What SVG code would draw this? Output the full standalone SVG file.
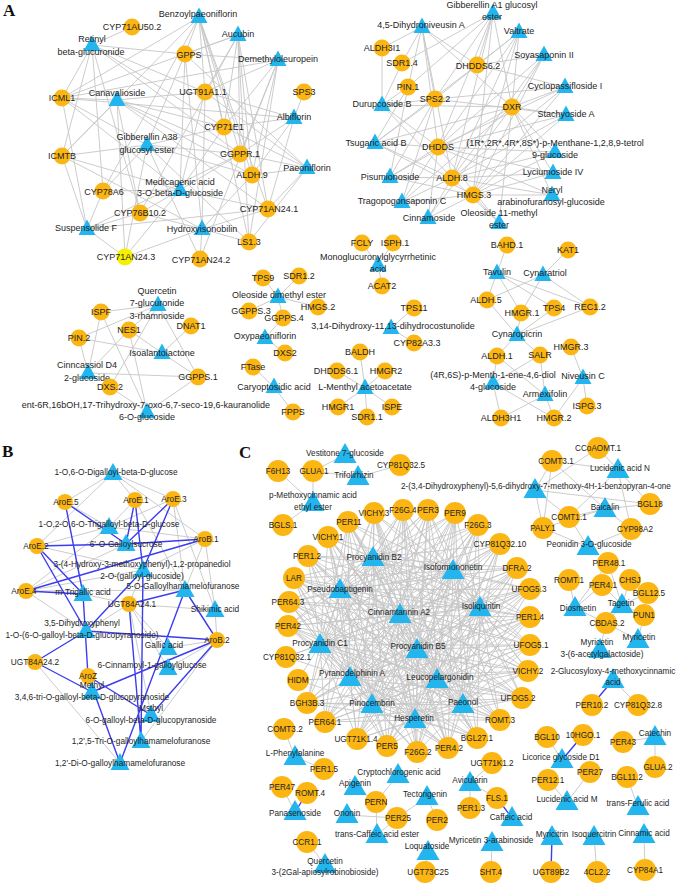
<svg xmlns="http://www.w3.org/2000/svg" width="676" height="885" viewBox="0 0 676 885">
<style>
.e{stroke:#c6c6c6;stroke-width:0.9;fill:none}
.b{stroke:#3c3cf0;stroke-width:1.4;fill:none}
text{font-family:"Liberation Sans",Arial,sans-serif;fill:#1e1e1e;text-anchor:middle}
.fa{font-size:9px}
.fb{font-size:8.3px}
.fc{font-size:8.2px}
.p{font-family:"Liberation Serif","Times New Roman",serif;font-weight:bold;font-size:17px;text-anchor:start;fill:#111}
</style>
<defs>
<circle id="ca" r="8.5" fill="#FBB614"/>
<circle id="cy" r="8.5" fill="#F6F000"/>
<circle id="cb" r="8" fill="#FBB614"/>
<circle id="cc" r="11" fill="#FBB614"/>
<path id="ta" d="M0,-9.5L8.5,6L-8.5,6Z" fill="#22B5EE"/>
<path id="tb" d="M0,-10L9.5,7L-9.5,7Z" fill="#22B5EE"/>
<path id="tc" d="M0,-12L11.5,8L-11.5,8Z" fill="#22B5EE"/>
</defs>
<rect width="676" height="885" fill="#ffffff"/>
<text class="p" x="3" y="16">A</text>
<text class="p" x="2" y="457">B</text>
<text class="p" x="239" y="458">C</text>

<g id="connectors">
<!-- Panel A cluster 1 -->
<path class="e" d="M199,17L62,98M199,17L62,156M199,17L185,54M199,17L205,92M199,17L224,127M199,17L240,154M199,17L252,175M199,17L103,191M199,17L268,209M199,17L249,242"/>
<path class="e" d="M238,35L185,54M238,35L205,92M238,35L224,127M238,35L240,154M238,35L252,175M238,35L62,98M238,35L268,209M238,35L249,242M238,35L140,213"/>
<path class="e" d="M92,45L62,98M92,45L62,156M92,45L185,54M92,45L205,92M92,45L224,127M92,45L240,154M92,45L132,27M92,45L103,191M92,45L140,213"/>
<path class="e" d="M117,100L62,98M117,100L62,156M117,100L205,92M117,100L224,127M117,100L240,154M117,100L252,175M117,100L125,257M117,100L140,213M117,100L268,209"/>
<path class="e" d="M278,60L185,54M278,60L205,92M278,60L224,127M278,60L240,154M278,60L252,175M278,60L249,242M278,60L200,259M278,60L62,98"/>
<path class="e" d="M147,145L62,98M147,145L62,156M147,145L185,54M147,145L224,127M147,145L252,175M147,145L103,191M147,145L125,257M147,145L200,259M147,145L249,242M147,145L240,154"/>
<path class="e" d="M294,118L304,92M294,118L224,127M294,118L240,154M294,118L252,175M294,118L205,92M294,118L268,209M294,118L62,98"/>
<path class="e" d="M180,190L62,156M180,190L185,54M180,190L205,92M180,190L224,127M180,190L240,154M180,190L103,191M180,190L140,213M180,190L125,257M180,190L268,209M180,190L62,98"/>
<path class="e" d="M307,168L240,154M307,168L252,175M307,168L224,127M307,168L205,92M307,168L268,209M307,168L249,242M307,168L185,54"/>
<path class="e" d="M87,229L62,156M87,229L103,191M87,229L140,213M87,229L125,257M87,229L62,98M87,229L240,154M87,229L268,209"/>
<path class="e" d="M202,229L62,156M202,229L140,213M202,229L125,257M202,229L200,259M202,229L249,242M202,229L252,175M202,229L185,54M202,229L205,92M202,229L268,209"/>
<!-- Panel A cluster 2 -->
<path class="e" d="M422,27L382,48M422,27L402,63M422,27L408,87M422,27L435,99M422,27L477,65M422,27L512,107M422,27L438,147M422,27L452,178"/>
<path class="e" d="M493,13L477,65M493,13L512,107M493,13L435,99M493,13L438,147M493,13L452,178M493,13L473,195M493,13L408,87M493,13L402,63"/>
<path class="e" d="M519,32L477,65M519,32L512,107M519,32L438,147M519,32L452,178M519,32L473,195M519,32L435,99"/>
<path class="e" d="M544,55L512,107M544,55L477,65M544,55L438,147M544,55L452,178M544,55L473,195"/>
<path class="e" d="M565,87L512,107M565,87L438,147M565,87L452,178M565,87L473,195M565,87L435,99M565,87L477,65"/>
<path class="e" d="M566,115L512,107M566,115L438,147M566,115L452,178M566,115L473,195M566,115L435,99"/>
<path class="e" d="M555,152L512,107M555,152L438,147M555,152L452,178M555,152L473,195"/>
<path class="e" d="M553,173L512,107M553,173L452,178M553,173L473,195M553,173L438,147"/>
<path class="e" d="M552,195L473,195M552,195L452,178M552,195L512,107M552,195L438,147"/>
<path class="e" d="M382,105L382,48M382,105L408,87M382,105L402,63M382,105L435,99M382,105L438,147M382,105L452,178M382,105L512,107"/>
<path class="e" d="M375,143L408,87M375,143L435,99M375,143L438,147M375,143L452,178M375,143L473,195M375,143L512,107M375,143L477,65"/>
<path class="e" d="M390,177L435,99M390,177L438,147M390,177L452,178M390,177L473,195M390,177L512,107M390,177L408,87"/>
<path class="e" d="M402,202L438,147M402,202L452,178M402,202L473,195M402,202L512,107M402,202L435,99"/>
<path class="e" d="M428,218L438,147M428,218L452,178M428,218L473,195M428,218L512,107"/>
<path class="e" d="M499,223L473,195M499,223L452,178M499,223L512,107M499,223L438,147"/>
<!-- Panel A small clusters -->
<line class="e" x1="158" y1="305" x2="101" y2="312"/>
<line class="e" x1="158" y1="305" x2="129" y2="330"/>
<line class="e" x1="158" y1="305" x2="79" y2="338"/>
<line class="e" x1="158" y1="305" x2="198" y2="377"/>
<line class="e" x1="158" y1="305" x2="110" y2="387"/>
<line class="e" x1="162" y1="353" x2="191" y2="326"/>
<line class="e" x1="162" y1="353" x2="79" y2="338"/>
<line class="e" x1="162" y1="353" x2="129" y2="330"/>
<line class="e" x1="162" y1="353" x2="198" y2="377"/>
<line class="e" x1="88" y1="373" x2="101" y2="312"/>
<line class="e" x1="88" y1="373" x2="79" y2="338"/>
<line class="e" x1="88" y1="373" x2="129" y2="330"/>
<line class="e" x1="88" y1="373" x2="198" y2="377"/>
<line class="e" x1="147" y1="412" x2="110" y2="387"/>
<line class="e" x1="147" y1="412" x2="101" y2="312"/>
<line class="e" x1="147" y1="412" x2="129" y2="330"/>
<line class="e" x1="147" y1="412" x2="198" y2="377"/>
<line class="e" x1="278" y1="297" x2="263" y2="278"/>
<line class="e" x1="278" y1="297" x2="299" y2="276"/>
<line class="e" x1="278" y1="297" x2="318" y2="307"/>
<line class="e" x1="278" y1="297" x2="249" y2="311"/>
<line class="e" x1="278" y1="297" x2="283" y2="318"/>
<line class="e" x1="265" y1="338" x2="283" y2="318"/>
<line class="e" x1="265" y1="338" x2="285" y2="353"/>
<line class="e" x1="378" y1="265" x2="362" y2="243"/>
<line class="e" x1="378" y1="265" x2="393" y2="243"/>
<line class="e" x1="378" y1="265" x2="382" y2="286"/>
<line class="e" x1="391" y1="328" x2="414" y2="308"/>
<line class="e" x1="391" y1="328" x2="414" y2="343"/>
<line class="e" x1="274" y1="387" x2="253" y2="367"/>
<line class="e" x1="274" y1="387" x2="293" y2="412"/>
<line class="e" x1="365" y1="388" x2="360" y2="352"/>
<line class="e" x1="365" y1="388" x2="337" y2="371"/>
<line class="e" x1="365" y1="388" x2="385" y2="371"/>
<line class="e" x1="365" y1="388" x2="338" y2="407"/>
<line class="e" x1="365" y1="388" x2="367" y2="417"/>
<line class="e" x1="365" y1="388" x2="392" y2="407"/>
<line class="e" x1="497" y1="273" x2="507" y2="245"/>
<line class="e" x1="543" y1="275" x2="568" y2="250"/>
<line class="e" x1="497" y1="273" x2="487" y2="300"/>
<line class="e" x1="497" y1="273" x2="521" y2="313"/>
<line class="e" x1="497" y1="273" x2="554" y2="308"/>
<line class="e" x1="497" y1="273" x2="590" y2="307"/>
<line class="e" x1="543" y1="275" x2="487" y2="300"/>
<line class="e" x1="543" y1="275" x2="521" y2="313"/>
<line class="e" x1="543" y1="275" x2="590" y2="307"/>
<line class="e" x1="517" y1="335" x2="487" y2="300"/>
<line class="e" x1="517" y1="335" x2="521" y2="313"/>
<line class="e" x1="517" y1="335" x2="554" y2="308"/>
<line class="e" x1="517" y1="335" x2="590" y2="307"/>
<line class="e" x1="517" y1="335" x2="497" y2="356"/>
<line class="e" x1="517" y1="335" x2="540" y2="355"/>
<line class="e" x1="583" y1="378" x2="571" y2="347"/>
<line class="e" x1="583" y1="378" x2="554" y2="418"/>
<line class="e" x1="583" y1="378" x2="587" y2="406"/>
<line class="e" x1="493" y1="383" x2="497" y2="356"/>
<line class="e" x1="493" y1="383" x2="540" y2="355"/>
<line class="e" x1="493" y1="383" x2="554" y2="418"/>
<line class="e" x1="493" y1="383" x2="501" y2="418"/>
<line class="e" x1="545" y1="395" x2="497" y2="356"/>
<line class="e" x1="545" y1="395" x2="540" y2="355"/>
<line class="e" x1="545" y1="395" x2="501" y2="418"/>
<line class="e" x1="545" y1="395" x2="554" y2="418"/>
<!-- Panel B gray -->
<path class="e" d="M113,473L65,502M113,473L135,500M113,473L173,499M113,473L205,539M113,473L37,546"/>
<path class="e" d="M109,527L65,502M109,527L135,500M109,527L173,499M109,527L37,546M109,527L205,539M109,527L26,591"/>
<path class="e" d="M143,570L37,546M143,570L26,591M143,570L205,539M143,570L129,604"/>
<path class="e" d="M185,590L135,500M185,590L173,499M185,590L205,539M185,590L26,591"/>
<path class="e" d="M215,610L205,539M215,610L129,604M215,610L173,499M215,610L217,640"/>
<path class="e" d="M83,594L129,604M86,631L129,604M86,631L26,591M126,544L26,591M168,648L217,640M168,648L129,604M168,668L217,640M168,668L129,604M92,692L88,676M151,715L129,604M141,741L217,640M120,763L35,662"/>
<!-- Panel B blue -->
<path class="b" d="M65,502L83,594M65,502L126,544M135,500L126,544M135,500L143,570M173,499L126,544M173,499L143,570M205,539L126,544M205,539L26,591M37,546L126,544M37,546L83,594M37,546L86,631M26,591L83,594"/>
<path class="b" d="M129,604L185,590M129,604L141,741M217,640L185,590M217,640L86,631M217,640L92,692M217,640L151,715M88,676L83,594M88,676L120,763M88,676L151,715M35,662L92,692M35,662L86,631M143,570L86,631M143,570L141,741M185,590L120,763"/>
<!-- Panel C hub -->
<path class="e" d="M373,558L348,522M373,558L374,513M373,558L403,510M373,558L428,510M373,558L455,513M373,558L478,525M373,558L500,544M373,558L517,568M373,558L530,589M373,558L530,617M373,558L530,645M373,558L528,671M373,558L522,698M373,558L500,720M373,558L477,738M373,558L448,748M373,558L417,752M373,558L387,746M373,558L357,739M373,558L325,722M373,558L307,703M373,558L288,626M373,558L289,602M373,558L294,578M373,558L308,556M373,558L328,537"/>
<path class="e" d="M453,571L348,522M453,571L374,513M453,571L403,510M453,571L428,510M453,571L455,513M453,571L478,525M453,571L500,544M453,571L517,568M453,571L530,589M453,571L530,617M453,571L530,645M453,571L528,671M453,571L522,698M453,571L500,720M453,571L477,738M453,571L448,748M453,571L417,752M453,571L387,746M453,571L357,739M453,571L325,722M453,571L307,703M453,571L288,626M453,571L289,602M453,571L294,578M453,571L308,556M453,571L328,537"/>
<path class="e" d="M340,590L348,522M340,590L374,513M340,590L403,510M340,590L428,510M340,590L455,513M340,590L478,525M340,590L500,544M340,590L517,568M340,590L530,589M340,590L530,617M340,590L530,645M340,590L528,671M340,590L522,698M340,590L500,720M340,590L477,738M340,590L448,748M340,590L417,752M340,590L387,746M340,590L357,739M340,590L325,722M340,590L307,703M340,590L288,626M340,590L289,602M340,590L294,578M340,590L308,556M340,590L328,537"/>
<path class="e" d="M480,608L348,522M480,608L374,513M480,608L403,510M480,608L428,510M480,608L455,513M480,608L478,525M480,608L500,544M480,608L517,568M480,608L530,589M480,608L530,617M480,608L530,645M480,608L528,671M480,608L522,698M480,608L500,720M480,608L477,738M480,608L448,748M480,608L417,752M480,608L387,746M480,608L357,739M480,608L325,722M480,608L307,703M480,608L288,626M480,608L289,602M480,608L294,578M480,608L308,556M480,608L328,537"/>
<path class="e" d="M400,615L348,522M400,615L374,513M400,615L403,510M400,615L428,510M400,615L455,513M400,615L478,525M400,615L500,544M400,615L517,568M400,615L530,589M400,615L530,617M400,615L530,645M400,615L528,671M400,615L522,698M400,615L500,720M400,615L477,738M400,615L448,748M400,615L417,752M400,615L387,746M400,615L357,739M400,615L325,722M400,615L307,703M400,615L288,626M400,615L289,602M400,615L294,578M400,615L308,556M400,615L328,537M400,615L286,657"/>
<path class="e" d="M320,645L348,522M320,645L374,513M320,645L403,510M320,645L428,510M320,645L455,513M320,645L478,525M320,645L500,544M320,645L517,568M320,645L530,589M320,645L530,617M320,645L530,645M320,645L528,671M320,645L522,698M320,645L500,720M320,645L477,738M320,645L448,748M320,645L417,752M320,645L387,746M320,645L357,739M320,645L325,722M320,645L307,703M320,645L288,626M320,645L289,602M320,645L294,578M320,645L308,556M320,645L328,537M320,645L298,680M320,645L286,657"/>
<path class="e" d="M417,650L348,522M417,650L374,513M417,650L403,510M417,650L428,510M417,650L455,513M417,650L478,525M417,650L500,544M417,650L517,568M417,650L530,589M417,650L530,617M417,650L530,645M417,650L528,671M417,650L522,698M417,650L500,720M417,650L477,738M417,650L448,748M417,650L417,752M417,650L387,746M417,650L357,739M417,650L325,722M417,650L307,703M417,650L288,626M417,650L289,602M417,650L294,578M417,650L308,556M417,650L328,537"/>
<path class="e" d="M350,678L348,522M350,678L374,513M350,678L403,510M350,678L428,510M350,678L455,513M350,678L478,525M350,678L500,544M350,678L517,568M350,678L530,589M350,678L530,617M350,678L530,645M350,678L528,671M350,678L522,698M350,678L500,720M350,678L477,738M350,678L448,748M350,678L417,752M350,678L387,746M350,678L357,739M350,678L325,722M350,678L307,703M350,678L288,626M350,678L289,602M350,678L294,578M350,678L308,556M350,678L328,537M350,678L298,680M350,678L286,657"/>
<path class="e" d="M437,680L348,522M437,680L374,513M437,680L403,510M437,680L428,510M437,680L455,513M437,680L478,525M437,680L500,544M437,680L517,568M437,680L530,589M437,680L530,617M437,680L530,645M437,680L528,671M437,680L522,698M437,680L500,720M437,680L477,738M437,680L448,748M437,680L417,752M437,680L387,746M437,680L357,739M437,680L325,722M437,680L307,703M437,680L288,626M437,680L289,602M437,680L294,578M437,680L308,556M437,680L328,537"/>
<path class="e" d="M372,705L348,522M372,705L374,513M372,705L403,510M372,705L428,510M372,705L455,513M372,705L478,525M372,705L500,544M372,705L517,568M372,705L530,589M372,705L530,617M372,705L530,645M372,705L528,671M372,705L522,698M372,705L500,720M372,705L477,738M372,705L448,748M372,705L417,752M372,705L387,746M372,705L357,739M372,705L325,722M372,705L307,703M372,705L288,626M372,705L289,602M372,705L294,578M372,705L308,556M372,705L328,537M372,705L298,680"/>
<path class="e" d="M463,705L348,522M463,705L374,513M463,705L403,510M463,705L428,510M463,705L455,513M463,705L478,525M463,705L500,544M463,705L517,568M463,705L530,589M463,705L530,617M463,705L530,645M463,705L528,671M463,705L522,698M463,705L500,720M463,705L477,738M463,705L448,748M463,705L417,752M463,705L387,746M463,705L357,739M463,705L325,722M463,705L307,703M463,705L288,626M463,705L289,602M463,705L294,578M463,705L308,556M463,705L328,537"/>
<path class="e" d="M415,720L348,522M415,720L374,513M415,720L403,510M415,720L428,510M415,720L455,513M415,720L478,525M415,720L500,544M415,720L517,568M415,720L530,589M415,720L530,617M415,720L530,645M415,720L528,671M415,720L522,698M415,720L500,720M415,720L477,738M415,720L448,748M415,720L417,752M415,720L387,746M415,720L357,739M415,720L325,722M415,720L307,703M415,720L288,626M415,720L289,602M415,720L294,578M415,720L308,556M415,720L328,537"/>
<!-- Panel C periphery -->
<line class="e" x1="313" y1="503" x2="313" y2="471"/>
<line class="e" x1="313" y1="503" x2="278" y2="471"/>
<line class="e" x1="313" y1="503" x2="283" y2="525"/>
<line class="e" x1="358" y1="477" x2="313" y2="471"/>
<line class="e" x1="358" y1="477" x2="400" y2="465"/>
<line class="e" x1="345" y1="455" x2="313" y2="471"/>
<line class="e" x1="535" y1="490" x2="552" y2="461"/>
<line class="e" x1="618" y1="470" x2="552" y2="461"/>
<line class="e" x1="605" y1="509" x2="552" y2="461"/>
<line class="e" x1="543" y1="528" x2="552" y2="461"/>
<line class="e" x1="618" y1="470" x2="598" y2="448"/>
<line class="e" x1="535" y1="490" x2="598" y2="448"/>
<line class="e" x1="535" y1="490" x2="650" y2="504"/>
<line class="e" x1="535" y1="490" x2="543" y2="528"/>
<line class="e" x1="535" y1="490" x2="569" y2="517"/>
<line class="e" x1="618" y1="470" x2="650" y2="504"/>
<line class="e" x1="618" y1="470" x2="569" y2="517"/>
<line class="e" x1="618" y1="470" x2="631" y2="529"/>
<line class="e" x1="605" y1="509" x2="650" y2="504"/>
<line class="e" x1="605" y1="509" x2="569" y2="517"/>
<line class="e" x1="605" y1="509" x2="631" y2="529"/>
<line class="e" x1="605" y1="509" x2="543" y2="528"/>
<line class="e" x1="588" y1="547" x2="569" y2="517"/>
<line class="e" x1="588" y1="547" x2="543" y2="528"/>
<line class="e" x1="588" y1="547" x2="631" y2="529"/>
<line class="e" x1="575" y1="608" x2="569" y2="580"/>
<line class="e" x1="575" y1="608" x2="602" y2="585"/>
<line class="e" x1="575" y1="608" x2="606" y2="623"/>
<line class="e" x1="575" y1="608" x2="608" y2="563"/>
<line class="e" x1="622" y1="605" x2="602" y2="585"/>
<line class="e" x1="622" y1="605" x2="630" y2="580"/>
<line class="e" x1="622" y1="605" x2="648" y2="593"/>
<line class="e" x1="622" y1="605" x2="644" y2="615"/>
<line class="e" x1="622" y1="605" x2="606" y2="623"/>
<line class="e" x1="622" y1="605" x2="608" y2="563"/>
<line class="e" x1="638" y1="640" x2="644" y2="615"/>
<line class="e" x1="638" y1="640" x2="606" y2="623"/>
<line class="e" x1="600" y1="650" x2="606" y2="623"/>
<line class="b" x1="613" y1="680" x2="592" y2="705"/>
<line class="e" x1="613" y1="680" x2="638" y2="705"/>
<line class="e" x1="562" y1="760" x2="547" y2="737"/>
<line class="b" x1="562" y1="760" x2="583" y2="735"/>
<line class="e" x1="567" y1="802" x2="590" y2="772"/>
<line class="e" x1="567" y1="802" x2="548" y2="780"/>
<line class="e" x1="655" y1="737" x2="623" y2="742"/>
<line class="e" x1="655" y1="737" x2="655" y2="767"/>
<line class="e" x1="638" y1="807" x2="627" y2="777"/>
<line class="e" x1="470" y1="783" x2="492" y2="763"/>
<line class="e" x1="470" y1="783" x2="470" y2="808"/>
<line class="e" x1="470" y1="783" x2="497" y2="798"/>
<line class="b" x1="497" y1="798" x2="512" y2="818"/>
<line class="e" x1="427" y1="797" x2="437" y2="820"/>
<line class="e" x1="427" y1="797" x2="397" y2="818"/>
<line class="e" x1="428" y1="852" x2="425" y2="872"/>
<line class="e" x1="492" y1="843" x2="491" y2="872"/>
<line class="b" x1="552" y1="837" x2="551" y2="872"/>
<line class="e" x1="594" y1="837" x2="597" y2="872"/>
<line class="e" x1="644" y1="835" x2="645" y2="870"/>
<line class="e" x1="295" y1="757" x2="284" y2="729"/>
<line class="e" x1="295" y1="757" x2="324" y2="769"/>
<line class="e" x1="295" y1="812" x2="282" y2="787"/>
<line class="b" x1="295" y1="812" x2="307" y2="793"/>
<line class="e" x1="325" y1="865" x2="307" y2="842"/>
<line class="e" x1="376" y1="802" x2="398" y2="775"/>
<line class="e" x1="376" y1="802" x2="355" y2="787"/>
<line class="e" x1="376" y1="802" x2="377" y2="835"/>
<line class="e" x1="397" y1="818" x2="347" y2="815"/>
<line class="e" x1="397" y1="818" x2="377" y2="835"/>
</g>

<g id="nodes-A">
<g id="a-benzoylpaeoniflorin"><use href="#ta" x="199" y="17"/><text class="fa" x="198" y="17">Benzoylpaeoniflorin</text></g>
<g id="a-aucubin"><use href="#ta" x="238" y="35"/><text class="fa" x="238" y="37">Aucubin</text></g>
<g id="a-retinyl"><use href="#ta" x="92" y="45"/><text class="fa" x="92" y="42">Retinyl</text><text class="fa" x="91" y="55">beta-glucuronide</text></g>
<g id="a-canavalioside"><use href="#ta" x="117" y="100"/><text class="fa" x="117" y="96">Canavalioside</text></g>
<g id="a-demethyloleuropein"><use href="#ta" x="278" y="60"/><text class="fa" x="278" y="62">Demethyloleuropein</text></g>
<g id="a-gibberellin-a38"><use href="#ta" x="147" y="145"/><text class="fa" x="147" y="140">Gibberellin A38</text><text class="fa" x="147" y="153">glucosyl ester</text></g>
<g id="a-albiflorin"><use href="#ta" x="294" y="118"/><text class="fa" x="294" y="120">Albiflorin</text></g>
<g id="a-medicagenic"><use href="#ta" x="180" y="190"/><text class="fa" x="180" y="185">Medicagenic acid</text><text class="fa" x="180" y="196">3-O-beta-D-glucoside</text></g>
<g id="a-paeoniflorin"><use href="#ta" x="307" y="168"/><text class="fa" x="307" y="171">Paeoniflorin</text></g>
<g id="a-suspensolide"><use href="#ta" x="87" y="229"/><text class="fa" x="86" y="231">Suspensolide F</text></g>
<g id="a-hydroxyisonobilin"><use href="#ta" x="202" y="229"/><text class="fa" x="202" y="232">Hydroxyisonobilin</text></g>
<g id="a-cyp71au50-2"><use href="#ca" x="132" y="27"/><text class="fa" x="132" y="30">CYP71AU50.2</text></g>
<g id="a-gpps"><use href="#ca" x="185" y="54"/><text class="fa" x="189" y="58">GPPS</text></g>
<g id="a-icml1"><use href="#ca" x="62" y="98"/><text class="fa" x="62" y="101">ICML1</text></g>
<g id="a-ugt91a1-1"><use href="#ca" x="205" y="92"/><text class="fa" x="203" y="95">UGT91A1.1</text></g>
<g id="a-sps3"><use href="#ca" x="304" y="92"/><text class="fa" x="304" y="95">SPS3</text></g>
<g id="a-cyp71e1"><use href="#ca" x="224" y="127"/><text class="fa" x="224" y="130">CYP71E1</text></g>
<g id="a-icmtb"><use href="#ca" x="62" y="156"/><text class="fa" x="62" y="159">ICMTB</text></g>
<g id="a-ggppr-1"><use href="#ca" x="240" y="154"/><text class="fa" x="240" y="157">GGPPR.1</text></g>
<g id="a-aldh-9"><use href="#ca" x="252" y="175"/><text class="fa" x="252" y="178">ALDH.9</text></g>
<g id="a-cyp78a6"><use href="#ca" x="103" y="191"/><text class="fa" x="104" y="195">CYP78A6</text></g>
<g id="a-cyp76b10-2"><use href="#ca" x="140" y="213"/><text class="fa" x="140" y="216">CYP76B10.2</text></g>
<g id="a-cyp71an24-1"><use href="#ca" x="268" y="209"/><text class="fa" x="269" y="212">CYP71AN24.1</text></g>
<g id="a-ls1-3"><use href="#ca" x="249" y="242"/><text class="fa" x="249" y="245">LS1.3</text></g>
<g id="a-cyp71an24-3"><use href="#cy" x="125" y="257"/><text class="fa" x="126" y="260">CYP71AN24.3</text></g>
<g id="a-cyp71an24-2"><use href="#ca" x="200" y="259"/><text class="fa" x="201" y="263">CYP71AN24.2</text></g>

<g id="a-dihydroniveusin"><use href="#ta" x="422" y="27"/><text class="fa" x="421" y="28">4,5-Dihydroniveusin A</text></g>
<g id="a-gibberellin-a1"><use href="#ta" x="493" y="13"/><text class="fa" x="492" y="8">Gibberellin A1 glucosyl</text><text class="fa" x="492" y="20">ester</text></g>
<g id="a-valtrate"><use href="#ta" x="519" y="32"/><text class="fa" x="519" y="34">Valtrate</text></g>
<g id="a-soyasaponin"><use href="#ta" x="544" y="55"/><text class="fa" x="544" y="58">Soyasaponin II</text></g>
<g id="a-cyclopassifloside"><use href="#ta" x="565" y="87"/><text class="fa" x="565" y="89">Cyclopassifloside I</text></g>
<g id="a-stachyoside"><use href="#ta" x="566" y="115"/><text class="fa" x="566" y="117">Stachyoside A</text></g>
<g id="a-menthane-tetrol"><use href="#ta" x="555" y="152"/><text class="fa" x="555" y="146">(1R*,2R*,4R*,8S*)-p-Menthane-1,2,8,9-tetrol</text><text class="fa" x="555" y="158">9-glucoside</text></g>
<g id="a-lyciumoside"><use href="#ta" x="553" y="173"/><text class="fa" x="553" y="175">Lyciumoside IV</text></g>
<g id="a-neryl"><use href="#ta" x="552" y="195"/><text class="fa" x="552" y="193">Neryl</text><text class="fa" x="551" y="205">arabinofuranosyl-glucoside</text></g>
<g id="a-durupcoside"><use href="#ta" x="382" y="105"/><text class="fa" x="382" y="107">Durupcoside B</text></g>
<g id="a-tsugaric"><use href="#ta" x="375" y="143"/><text class="fa" x="376" y="146">Tsugaric acid B</text></g>
<g id="a-pisumionoside"><use href="#ta" x="390" y="177"/><text class="fa" x="390" y="180">Pisumionoside</text></g>
<g id="a-tragopogonsaponin"><use href="#ta" x="402" y="202"/><text class="fa" x="402" y="204">Tragopogonsaponin C</text></g>
<g id="a-cinnamoside"><use href="#ta" x="428" y="218"/><text class="fa" x="429" y="221">Cinnamoside</text></g>
<g id="a-oleoside-11"><use href="#ta" x="499" y="223"/><text class="fa" x="499" y="216">Oleoside 11-methyl</text><text class="fa" x="499" y="228">ester</text></g>
<g id="a-aldh3i1"><use href="#ca" x="382" y="48"/><text class="fa" x="382" y="51">ALDH3I1</text></g>
<g id="a-sdr1-4"><use href="#ca" x="402" y="63"/><text class="fa" x="402" y="66">SDR1.4</text></g>
<g id="a-pin-1"><use href="#ca" x="408" y="87"/><text class="fa" x="408" y="90">PIN.1</text></g>
<g id="a-sps2-2"><use href="#ca" x="435" y="99"/><text class="fa" x="435" y="102">SPS2.2</text></g>
<g id="a-dhdds6-2"><use href="#ca" x="477" y="65"/><text class="fa" x="478" y="69">DHDDS6.2</text></g>
<g id="a-dxr"><use href="#ca" x="512" y="107"/><text class="fa" x="512" y="110">DXR</text></g>
<g id="a-dhdds"><use href="#ca" x="438" y="147"/><text class="fa" x="438" y="150">DHDDS</text></g>
<g id="a-aldh-8"><use href="#ca" x="452" y="178"/><text class="fa" x="452" y="181">ALDH.8</text></g>
<g id="a-hmgs-3"><use href="#ca" x="473" y="195"/><text class="fa" x="474" y="198">HMGS.3</text></g>

<g id="a-quercetin-glucuronide"><use href="#ta" x="158" y="305"/><text class="fa" x="157" y="294">Quercetin</text><text class="fa" x="157" y="306">7-glucuronide</text><text class="fa" x="157" y="319">3-rhamnoside</text></g>
<g id="a-ispf"><use href="#ca" x="101" y="312"/><text class="fa" x="101" y="315">ISPF</text></g>
<g id="a-nes1"><use href="#ca" x="129" y="330"/><text class="fa" x="129" y="333">NES1</text></g>
<g id="a-dnat1"><use href="#ca" x="191" y="326"/><text class="fa" x="191" y="329">DNAT1</text></g>
<g id="a-pin-2"><use href="#ca" x="79" y="338"/><text class="fa" x="79" y="341">PIN.2</text></g>
<g id="a-isoalantolactone"><use href="#ta" x="162" y="353"/><text class="fa" x="162" y="356">Isoalantolactone</text></g>
<g id="a-cinncassiol"><use href="#ta" x="88" y="373"/><text class="fa" x="87" y="368">Cinncassiol D4</text><text class="fa" x="87" y="381">2-glucoside</text></g>
<g id="a-ggpps-1"><use href="#ca" x="198" y="377"/><text class="fa" x="198" y="380">GGPPS.1</text></g>
<g id="a-dxs-2"><use href="#ca" x="110" y="387"/><text class="fa" x="110" y="390">DXS.2</text></g>
<g id="a-ent-kauranolide"><use href="#ta" x="147" y="412"/><text class="fa" x="146" y="408">ent-6R,16bOH,17-Trihydroxy-7-oxo-6,7-seco-19,6-kauranolide</text><text class="fa" x="147" y="420">6-O-glucoside</text></g>

<g id="a-tps9"><use href="#ca" x="263" y="278"/><text class="fa" x="263" y="281">TPS9</text></g>
<g id="a-sdr1-2"><use href="#ca" x="299" y="276"/><text class="fa" x="299" y="279">SDR1.2</text></g>
<g id="a-oleoside-dimethyl"><use href="#ta" x="278" y="297"/><text class="fa" x="279" y="298">Oleoside dimethyl ester</text></g>
<g id="a-hmgs-2"><use href="#ca" x="318" y="307"/><text class="fa" x="318" y="310">HMGS.2</text></g>
<g id="a-ggpps-3"><use href="#ca" x="249" y="311"/><text class="fa" x="251" y="314">GGPPS.3</text></g>
<g id="a-ggpps-4"><use href="#ca" x="283" y="318"/><text class="fa" x="284" y="321">GGPPS.4</text></g>
<g id="a-oxypaeoniflorin"><use href="#ta" x="265" y="338"/><text class="fa" x="265" y="339">Oxypaeoniflorin</text></g>
<g id="a-dxs2"><use href="#ca" x="285" y="353"/><text class="fa" x="285" y="356">DXS2</text></g>
<g id="a-fcly"><use href="#ca" x="362" y="243"/><text class="fa" x="362" y="246">FCLY</text></g>
<g id="a-isph-1"><use href="#ca" x="393" y="243"/><text class="fa" x="395" y="246">ISPH.1</text></g>
<g id="a-monoglucuronyl"><use href="#ta" x="378" y="265"/><text class="fa" x="378" y="260">Monoglucuronylglycyrrhetinic</text><text class="fa" x="378" y="272">acid</text></g>
<g id="a-acat2"><use href="#ca" x="382" y="286"/><text class="fa" x="382" y="289">ACAT2</text></g>
<g id="a-tps11"><use href="#ca" x="414" y="308"/><text class="fa" x="414" y="311">TPS11</text></g>
<g id="a-dihydrocostunolide"><use href="#ta" x="391" y="328"/><text class="fa" x="393" y="329">3,14-Dihydroxy-11,13-dihydrocostunolide</text></g>
<g id="a-cyp82a3-3"><use href="#ca" x="414" y="343"/><text class="fa" x="417" y="346">CYP82A3.3</text></g>
<g id="a-ftase"><use href="#ca" x="253" y="367"/><text class="fa" x="253" y="370">FTase</text></g>
<g id="a-caryoptosidic"><use href="#ta" x="274" y="387"/><text class="fa" x="274" y="390">Caryoptosidic acid</text></g>
<g id="a-fpps"><use href="#ca" x="293" y="412"/><text class="fa" x="293" y="415">FPPS</text></g>
<g id="a-baldh"><use href="#ca" x="360" y="352"/><text class="fa" x="360" y="355">BALDH</text></g>
<g id="a-dhdds6-1"><use href="#ca" x="337" y="371"/><text class="fa" x="336" y="374">DHDDS6.1</text></g>
<g id="a-hmgr2"><use href="#ca" x="385" y="371"/><text class="fa" x="386" y="374">HMGR2</text></g>
<g id="a-menthyl-acetoacetate"><use href="#ta" x="365" y="388"/><text class="fa" x="365" y="390">L-Menthyl acetoacetate</text></g>
<g id="a-hmgr1"><use href="#ca" x="338" y="407"/><text class="fa" x="338" y="410">HMGR1</text></g>
<g id="a-sdr1-1"><use href="#ca" x="367" y="417"/><text class="fa" x="367" y="420">SDR1.1</text></g>
<g id="a-ispe"><use href="#ca" x="392" y="407"/><text class="fa" x="392" y="410">ISPE</text></g>

<g id="a-bahd-1"><use href="#ca" x="507" y="245"/><text class="fa" x="507" y="248">BAHD.1</text></g>
<g id="a-kat1"><use href="#ca" x="568" y="250"/><text class="fa" x="568" y="253">KAT1</text></g>
<g id="a-tavulin"><use href="#ta" x="497" y="273"/><text class="fa" x="497" y="275">Tavulin</text></g>
<g id="a-cynaratriol"><use href="#ta" x="543" y="275"/><text class="fa" x="545" y="276">Cynaratriol</text></g>
<g id="a-aldh-5"><use href="#ca" x="487" y="300"/><text class="fa" x="486" y="303">ALDH.5</text></g>
<g id="a-hmgr-1"><use href="#ca" x="521" y="313"/><text class="fa" x="522" y="316">HMGR.1</text></g>
<g id="a-tps4"><use href="#ca" x="554" y="308"/><text class="fa" x="554" y="311">TPS4</text></g>
<g id="a-rec1-2"><use href="#ca" x="590" y="307"/><text class="fa" x="590" y="310">REC1.2</text></g>
<g id="a-cynaropicrin"><use href="#ta" x="517" y="335"/><text class="fa" x="517" y="337">Cynaropicrin</text></g>
<g id="a-hmgr-3"><use href="#ca" x="571" y="347"/><text class="fa" x="571" y="350">HMGR.3</text></g>
<g id="a-aldh-1"><use href="#ca" x="497" y="356"/><text class="fa" x="497" y="359">ALDH.1</text></g>
<g id="a-salr"><use href="#ca" x="540" y="355"/><text class="fa" x="540" y="358">SALR</text></g>
<g id="a-niveusin"><use href="#ta" x="583" y="378"/><text class="fa" x="583" y="379">Niveusin C</text></g>
<g id="a-menthene-diol"><use href="#ta" x="493" y="383"/><text class="fa" x="493" y="378">(4R,6S)-p-Menth-1-ene-4,6-diol</text><text class="fa" x="493" y="390">4-glucoside</text></g>
<g id="a-armexifolin"><use href="#ta" x="545" y="395"/><text class="fa" x="545" y="397">Armexifolin</text></g>
<g id="a-aldh3h1"><use href="#ca" x="501" y="418"/><text class="fa" x="501" y="421">ALDH3H1</text></g>
<g id="a-hmgr-2"><use href="#ca" x="554" y="418"/><text class="fa" x="554" y="421">HMGR.2</text></g>
<g id="a-ispg-3"><use href="#ca" x="587" y="406"/><text class="fa" x="587" y="409">ISPG.3</text></g>
</g>

<g id="nodes-B">
<g id="b-digalloyl"><use href="#tb" x="113" y="473"/><text class="fb" x="116" y="475">1-O,6-O-Digalloyl-beta-D-glucose</text></g>
<g id="b-aroe-5"><use href="#cb" x="65" y="502"/><text class="fb" x="66" y="505">AroE.5</text></g>
<g id="b-aroe-1"><use href="#cb" x="135" y="500"/><text class="fb" x="136" y="503">AroE.1</text></g>
<g id="b-aroe-3"><use href="#cb" x="173" y="499"/><text class="fb" x="174" y="502">AroE.3</text></g>
<g id="b-trigalloyl"><use href="#tb" x="109" y="527"/><text class="fb" x="109" y="527">1-O,2-O,6-O-Trigalloyl-beta-D-glucose</text></g>
<g id="b-arob-1"><use href="#cb" x="205" y="539"/><text class="fb" x="206" y="542">AroB.1</text></g>
<g id="b-aroe-2"><use href="#cb" x="37" y="546"/><text class="fb" x="36" y="549">AroE.2</text></g>
<g id="b-galloylsucrose"><use href="#tb" x="126" y="544"/><text class="fb" x="126" y="547">6'-O-Galloylsucrose</text></g>
<g id="b-propanediol"><use href="#tb" x="143" y="570"/><text class="fb" x="142" y="567">3-(4-Hydroxy-3-methoxyphenyl)-1,2-propanediol</text><text class="fb" x="142" y="579">2-O-(galloyl-glucoside)</text></g>
<g id="b-aroe-4"><use href="#cb" x="26" y="591"/><text class="fb" x="24" y="594">AroE.4</text></g>
<g id="b-m-trigallic"><use href="#tb" x="83" y="594"/><text class="fb" x="83" y="595">m-Trigallic acid</text></g>
<g id="b-galloylhamamelofuranose"><use href="#tb" x="185" y="590"/><text class="fb" x="183" y="589">5-O-Galloylhamamelofuranose</text></g>
<g id="b-ugt84a24-1"><use href="#cb" x="129" y="604"/><text class="fb" x="132" y="607">UGT84A24.1</text></g>
<g id="b-shikimic"><use href="#tb" x="215" y="610"/><text class="fb" x="215" y="612">Shikimic acid</text></g>
<g id="b-dihydroxyphenyl"><use href="#tb" x="86" y="631"/><text class="fb" x="82" y="626">3,5-Dihydroxyphenyl</text><text class="fb" x="82" y="638">1-O-(6-O-galloyl-beta-D-glucopyranoside)</text></g>
<g id="b-arob-2"><use href="#cb" x="217" y="640"/><text class="fb" x="217" y="643">AroB.2</text></g>
<g id="b-gallic"><use href="#tb" x="168" y="648"/><text class="fb" x="164" y="648">Gallic acid</text></g>
<g id="b-cinnamoyl"><use href="#tb" x="168" y="668"/><text class="fb" x="152" y="668">6-Cinnamoyl-1-galloylglucose</text></g>
<g id="b-ugt84a24-2"><use href="#cb" x="35" y="662"/><text class="fb" x="35" y="665">UGT84A24.2</text></g>
<g id="b-aroz"><use href="#cb" x="88" y="676"/><text class="fb" x="88" y="679">AroZ</text></g>
<g id="b-methyl-trigalloyl"><use href="#tb" x="92" y="692"/><text class="fb" x="92" y="688">Methyl</text><text class="fb" x="92" y="700">3,4,6-tri-O-galloyl-beta-D-glucopyranoside</text></g>
<g id="b-msthyl"><use href="#tb" x="151" y="715"/><text class="fb" x="151" y="711">Msthyl</text><text class="fb" x="151" y="723">6-O-galloyl-beta-D-glucopyranoside</text></g>
<g id="b-tri-galloylhamamelofuranose"><use href="#tb" x="141" y="741"/><text class="fb" x="141" y="744">1,2',5-Tri-O-galloylhamamelofuranose</text></g>
<g id="b-di-galloylhamamelofuranose"><use href="#tb" x="120" y="763"/><text class="fb" x="120" y="766">1,2'-Di-O-galloylhamamelofuranose</text></g>
</g>

<g id="nodes-C">
<g id="c-vestitone"><use href="#tc" x="345" y="455"/><text class="fc" x="345" y="456">Vestitone 7-glucoside</text></g>
<g id="c-f6h13"><use href="#cc" x="278" y="471"/><text class="fc" x="278" y="474">F6H13</text></g>
<g id="c-glua-1"><use href="#cc" x="313" y="471"/><text class="fc" x="314" y="474">GLUA.1</text></g>
<g id="c-trifolirhizin"><use href="#tc" x="358" y="477"/><text class="fc" x="354" y="478">Trifolirhizin</text></g>
<g id="c-cyp81q32-5"><use href="#cc" x="400" y="465"/><text class="fc" x="401" y="468">CYP81Q32.5</text></g>
<g id="c-methoxycinnamic"><use href="#tc" x="313" y="503"/><text class="fc" x="313" y="498">p-Methoxycinnamic acid</text><text class="fc" x="313" y="510">ethyl ester</text></g>
<g id="c-bgls-1"><use href="#cc" x="283" y="525"/><text class="fc" x="283" y="528">BGLS.1</text></g>

<g id="c-comt3-1"><use href="#cc" x="552" y="461"/><text class="fc" x="556" y="464">COMT3.1</text></g>
<g id="c-ccoaomt-1"><use href="#cc" x="598" y="448"/><text class="fc" x="598" y="451">CCoAOMT.1</text></g>
<g id="c-lucidenic-n"><use href="#tc" x="618" y="470"/><text class="fc" x="620" y="471">Lucidenic acid N</text></g>
<g id="c-benzopyranone"><use href="#tc" x="535" y="490"/><text class="fc" x="536" y="489">2-(3,4-Dihydroxyphenyl)-5,6-dihydroxy-7-methoxy-4H-1-benzopyran-4-one</text></g>
<g id="c-bgl18"><use href="#cc" x="650" y="504"/><text class="fc" x="650" y="507">BGL18</text></g>
<g id="c-baicalin"><use href="#tc" x="605" y="509"/><text class="fc" x="605" y="510">Baicalin</text></g>
<g id="c-comt1-1"><use href="#cc" x="569" y="517"/><text class="fc" x="569" y="520">COMT1.1</text></g>
<g id="c-paly-1"><use href="#cc" x="543" y="528"/><text class="fc" x="543" y="531">PALY.1</text></g>
<g id="c-cyp98a2"><use href="#cc" x="631" y="529"/><text class="fc" x="635" y="532">CYP98A2</text></g>
<g id="c-peonidin"><use href="#tc" x="588" y="547"/><text class="fc" x="589" y="547">Peonidin 3-O-glucoside</text></g>

<g id="c-per11"><use href="#cc" x="348" y="522"/><text class="fc" x="349" y="525">PER11</text></g>
<g id="c-vichy-3"><use href="#cc" x="374" y="513"/><text class="fc" x="374" y="516">VICHY.3</text></g>
<g id="c-f26g-4"><use href="#cc" x="403" y="510"/><text class="fc" x="403" y="513">F26G.4</text></g>
<g id="c-per3"><use href="#cc" x="428" y="510"/><text class="fc" x="428" y="513">PER3</text></g>
<g id="c-per9"><use href="#cc" x="455" y="513"/><text class="fc" x="455" y="516">PER9</text></g>
<g id="c-f26g-3"><use href="#cc" x="478" y="525"/><text class="fc" x="478" y="528">F26G.3</text></g>
<g id="c-cyp81q32-10"><use href="#cc" x="500" y="544"/><text class="fc" x="500" y="547">CYP81Q32.10</text></g>
<g id="c-dfra-2"><use href="#cc" x="517" y="568"/><text class="fc" x="517" y="571">DFRA.2</text></g>
<g id="c-ufog5-3"><use href="#cc" x="530" y="589"/><text class="fc" x="529" y="592">UFOG5.3</text></g>
<g id="c-per1-4"><use href="#cc" x="530" y="617"/><text class="fc" x="530" y="620">PER1.4</text></g>
<g id="c-ufog5-1"><use href="#cc" x="530" y="645"/><text class="fc" x="531" y="648">UFOG5.1</text></g>
<g id="c-vichy-2"><use href="#cc" x="528" y="671"/><text class="fc" x="528" y="674">VICHY.2</text></g>
<g id="c-ufog5-2"><use href="#cc" x="522" y="698"/><text class="fc" x="518" y="701">UFOG5.2</text></g>
<g id="c-romt-3"><use href="#cc" x="500" y="720"/><text class="fc" x="500" y="723">ROMT.3</text></g>
<g id="c-bgl27-1"><use href="#cc" x="477" y="738"/><text class="fc" x="477" y="741">BGL27.1</text></g>
<g id="c-per4-2"><use href="#cc" x="448" y="748"/><text class="fc" x="449" y="751">PER4.2</text></g>
<g id="c-f26g-2"><use href="#cc" x="417" y="752"/><text class="fc" x="418" y="755">F26G.2</text></g>
<g id="c-per5"><use href="#cc" x="387" y="746"/><text class="fc" x="387" y="749">PER5</text></g>
<g id="c-ugt71k1-4"><use href="#cc" x="357" y="739"/><text class="fc" x="356" y="742">UGT71K1.4</text></g>
<g id="c-per64-1"><use href="#cc" x="325" y="722"/><text class="fc" x="325" y="725">PER64.1</text></g>
<g id="c-bgh3b-3"><use href="#cc" x="307" y="703"/><text class="fc" x="307" y="706">BGH3B.3</text></g>
<g id="c-hidm"><use href="#cc" x="298" y="680"/><text class="fc" x="298" y="683">HIDM</text></g>
<g id="c-cyp81q32-1"><use href="#cc" x="286" y="657"/><text class="fc" x="287" y="660">CYP81Q32.1</text></g>
<g id="c-per42"><use href="#cc" x="288" y="626"/><text class="fc" x="288" y="629">PER42</text></g>
<g id="c-per64-3"><use href="#cc" x="289" y="602"/><text class="fc" x="288" y="605">PER64.3</text></g>
<g id="c-lar"><use href="#cc" x="294" y="578"/><text class="fc" x="294" y="581">LAR</text></g>
<g id="c-per1-2"><use href="#cc" x="308" y="556"/><text class="fc" x="307" y="559">PER1.2</text></g>
<g id="c-vichy-1"><use href="#cc" x="328" y="537"/><text class="fc" x="328" y="540">VICHY.1</text></g>

<g id="c-procyanidin-b2"><use href="#tc" x="373" y="558"/><text class="fc" x="374" y="560">Procyanidin B2</text></g>
<g id="c-isoformononetin"><use href="#tc" x="453" y="571"/><text class="fc" x="453" y="570">Isoformononetin</text></g>
<g id="c-pseudobaptigenin"><use href="#tc" x="340" y="590"/><text class="fc" x="340" y="592">Pseudobaptigenin</text></g>
<g id="c-isoliquiritin"><use href="#tc" x="480" y="608"/><text class="fc" x="481" y="609">Isoliquiritin</text></g>
<g id="c-cinnamtannin"><use href="#tc" x="400" y="615"/><text class="fc" x="399" y="615">Cinnamtannin A2</text></g>
<g id="c-procyanidin-c1"><use href="#tc" x="320" y="645"/><text class="fc" x="320" y="646">Procyanidin C1</text></g>
<g id="c-procyanidin-b5"><use href="#tc" x="417" y="650"/><text class="fc" x="418" y="649">Procyanidin B5</text></g>
<g id="c-pyranodelphinin"><use href="#tc" x="350" y="678"/><text class="fc" x="352" y="676">Pyranodelphinin A</text></g>
<g id="c-leucopelargonidin"><use href="#tc" x="437" y="680"/><text class="fc" x="440" y="680">Leucopelargonidin</text></g>
<g id="c-pinocembrin"><use href="#tc" x="372" y="705"/><text class="fc" x="372" y="706">Pinocembrin</text></g>
<g id="c-paeonol"><use href="#tc" x="463" y="705"/><text class="fc" x="463" y="705">Paeonol</text></g>
<g id="c-hesperetin"><use href="#tc" x="415" y="720"/><text class="fc" x="414" y="721">Hesperetin</text></g>

<g id="c-per48-1"><use href="#cc" x="608" y="563"/><text class="fc" x="609" y="566">PER48.1</text></g>
<g id="c-romt-1"><use href="#cc" x="569" y="580"/><text class="fc" x="569" y="583">ROMT.1</text></g>
<g id="c-per4-1"><use href="#cc" x="602" y="585"/><text class="fc" x="603" y="588">PER4.1</text></g>
<g id="c-chsj"><use href="#cc" x="630" y="580"/><text class="fc" x="630" y="583">CHSJ</text></g>
<g id="c-bgl12-5"><use href="#cc" x="648" y="593"/><text class="fc" x="649" y="596">BGL12.5</text></g>
<g id="c-diosmetin"><use href="#tc" x="575" y="608"/><text class="fc" x="578" y="611">Diosmetin</text></g>
<g id="c-tagetin"><use href="#tc" x="622" y="605"/><text class="fc" x="621" y="606">Tagetin</text></g>
<g id="c-pun1"><use href="#cc" x="644" y="615"/><text class="fc" x="644" y="618">PUN1</text></g>
<g id="c-cbdas-2"><use href="#cc" x="606" y="623"/><text class="fc" x="607" y="626">CBDAS.2</text></g>
<g id="c-myricetin"><use href="#tc" x="638" y="640"/><text class="fc" x="639" y="640">Myricetin</text></g>
<g id="c-myricetin-acetylgalactoside"><use href="#tc" x="600" y="650"/><text class="fc" x="597" y="645">Myricetin</text><text class="fc" x="602" y="657">3-(6-acetylgalactoside)</text></g>
<g id="c-glucosyloxy"><use href="#tc" x="613" y="680"/><text class="fc" x="613" y="674">2-Glucosyloxy-4-methoxycinnamic</text><text class="fc" x="613" y="685">acid</text></g>
<g id="c-per10-2"><use href="#cc" x="592" y="705"/><text class="fc" x="592" y="708">PER10.2</text></g>
<g id="c-cyp81q32-8"><use href="#cc" x="638" y="705"/><text class="fc" x="638" y="708">CYP81Q32.8</text></g>
<g id="c-bgl10"><use href="#cc" x="547" y="737"/><text class="fc" x="547" y="740">BGL10</text></g>
<g id="c-10hgo-1"><use href="#cc" x="583" y="735"/><text class="fc" x="583" y="738">10HGO.1</text></g>
<g id="c-licorice"><use href="#tc" x="562" y="760"/><text class="fc" x="561" y="760">Licorice glycoside D1</text></g>
<g id="c-per43"><use href="#cc" x="623" y="742"/><text class="fc" x="623" y="745">PER43</text></g>
<g id="c-catechin"><use href="#tc" x="655" y="737"/><text class="fc" x="655" y="736">Catechin</text></g>
<g id="c-ugt71k1-2"><use href="#cc" x="492" y="763"/><text class="fc" x="492" y="766">UGT71K1.2</text></g>
<g id="c-per27"><use href="#cc" x="590" y="772"/><text class="fc" x="590" y="775">PER27</text></g>
<g id="c-per12-1"><use href="#cc" x="548" y="780"/><text class="fc" x="548" y="783">PER12.1</text></g>
<g id="c-bgl11-2"><use href="#cc" x="627" y="777"/><text class="fc" x="627" y="780">BGL11.2</text></g>
<g id="c-glua-2"><use href="#cc" x="655" y="767"/><text class="fc" x="658" y="770">GLUA.2</text></g>
<g id="c-avicularin"><use href="#tc" x="470" y="783"/><text class="fc" x="470" y="783">Avicularin</text></g>
<g id="c-tectorigenin"><use href="#tc" x="427" y="797"/><text class="fc" x="425" y="797">Tectorigenin</text></g>
<g id="c-fls-1"><use href="#cc" x="497" y="798"/><text class="fc" x="497" y="801">FLS.1</text></g>
<g id="c-lucidenic-m"><use href="#tc" x="567" y="802"/><text class="fc" x="567" y="802">Lucidenic acid M</text></g>
<g id="c-trans-ferulic"><use href="#tc" x="638" y="807"/><text class="fc" x="638" y="806">trans-Ferulic acid</text></g>
<g id="c-per1-3"><use href="#cc" x="470" y="808"/><text class="fc" x="471" y="811">PER1.3</text></g>
<g id="c-caffeic"><use href="#tc" x="512" y="818"/><text class="fc" x="511" y="820">Caffeic acid</text></g>
<g id="c-per2"><use href="#cc" x="437" y="820"/><text class="fc" x="437" y="823">PER2</text></g>
<g id="c-loquatoside"><use href="#tc" x="428" y="852"/><text class="fc" x="427" y="849">Loquatoside</text></g>
<g id="c-myricetin-arabinoside"><use href="#tc" x="492" y="843"/><text class="fc" x="491" y="843">Myricetin 3-arabinoside</text></g>
<g id="c-myricitrin"><use href="#tc" x="552" y="837"/><text class="fc" x="552" y="837">Myricitrin</text></g>
<g id="c-isoquercitrin"><use href="#tc" x="594" y="837"/><text class="fc" x="594" y="837">Isoquercitrin</text></g>
<g id="c-cinnamic"><use href="#tc" x="644" y="835"/><text class="fc" x="644" y="836">Cinnamic acid</text></g>
<g id="c-ugt73c25"><use href="#cc" x="425" y="872"/><text class="fc" x="428" y="875">UGT73C25</text></g>
<g id="c-sht-4"><use href="#cc" x="491" y="872"/><text class="fc" x="491" y="875">SHT.4</text></g>
<g id="c-ugt89b2"><use href="#cc" x="551" y="872"/><text class="fc" x="551" y="875">UGT89B2</text></g>
<g id="c-4cl2-2"><use href="#cc" x="597" y="872"/><text class="fc" x="597" y="875">4CL2.2</text></g>
<g id="c-cyp84a1"><use href="#cc" x="645" y="870"/><text class="fc" x="645" y="873">CYP84A1</text></g>

<g id="c-comt3-2"><use href="#cc" x="284" y="729"/><text class="fc" x="285" y="732">COMT3.2</text></g>
<g id="c-l-phenylalanine"><use href="#tc" x="295" y="757"/><text class="fc" x="295" y="756">L-Phenylalanine</text></g>
<g id="c-per1-5"><use href="#cc" x="324" y="769"/><text class="fc" x="324" y="772">PER1.5</text></g>
<g id="c-per47"><use href="#cc" x="282" y="787"/><text class="fc" x="282" y="790">PER47</text></g>
<g id="c-romt-4"><use href="#cc" x="307" y="793"/><text class="fc" x="310" y="796">ROMT.4</text></g>
<g id="c-panasenoside"><use href="#tc" x="295" y="812"/><text class="fc" x="295" y="816">Panasenoside</text></g>
<g id="c-ccr1-1"><use href="#cc" x="307" y="842"/><text class="fc" x="307" y="845">CCR1.1</text></g>
<g id="c-quercetin-apiosyl"><use href="#tc" x="325" y="865"/><text class="fc" x="325" y="864">Quercetin</text><text class="fc" x="325" y="875">3-(2Gal-apiosylrobinobioside)</text></g>
<g id="c-cryptochlorogenic"><use href="#tc" x="398" y="775"/><text class="fc" x="399" y="775">Cryptochlorogenic acid</text></g>
<g id="c-apigenin"><use href="#tc" x="355" y="787"/><text class="fc" x="355" y="786">Apigenin</text></g>
<g id="c-pern"><use href="#cc" x="376" y="802"/><text class="fc" x="376" y="805">PERN</text></g>
<g id="c-ononin"><use href="#tc" x="347" y="815"/><text class="fc" x="347" y="816">Ononin</text></g>
<g id="c-per25"><use href="#cc" x="397" y="818"/><text class="fc" x="398" y="821">PER25</text></g>
<g id="c-trans-caffeic-ester"><use href="#tc" x="377" y="835"/><text class="fc" x="377" y="837">trans-Caffeic acid ester</text></g>
</g>
</svg>
